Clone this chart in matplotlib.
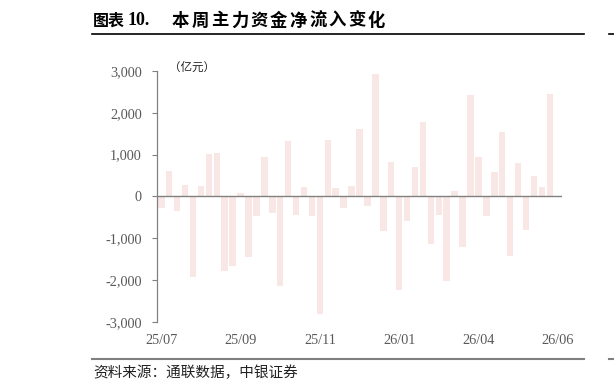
import numpy as np
import matplotlib
matplotlib.use("Agg")
import matplotlib.pyplot as plt
from matplotlib.lines import Line2D

# ---- data ----
net_inflow = [-280, 600, -340, 264, -1940, 240, 1013, 1045, -1796, -1668,
              88, -1445, -471, 934, -400, -2147, 1333, -447, 215, -471,
              -2825, 1341, 192, -287, 247, 1612, -240, 2937, -838, 814,
              -2243, -599, 694, 1772, -1141, -439, -2035, 120, -1213, 2418,
              934, -471, 575, 1532, -1429, 790, -806, 495, 215, 2442,
              None]
tick_labels = ['25/07', '25/09', '25/11', '26/01', '26/04', '26/06']
label_every = 10
y_ticks = [-3000, -2000, -1000, 0, 1000, 2000, 3000]

W, H = 614, 392
fig = plt.figure(figsize=(W / 100, H / 100), dpi=100)

serif = ['Liberation Serif', 'Noto Sans CJK SC']
cjk = ['Noto Sans CJK SC', 'DejaVu Sans']

ax_l, ax_r, ax_t, ax_b = 157.3, 561.7, 71.0, 321.7
ax = fig.add_axes([ax_l / W, 1 - ax_b / H, (ax_r - ax_l) / W, (ax_b - ax_t) / H])

vals = np.array([np.nan if v is None else v for v in net_inflow], dtype=float)
x = np.arange(len(vals))
ax.bar(x, vals, width=0.82, color='#F8E7E5', zorder=1)
ax.axhline(0, color='#808080', lw=1.0, zorder=3)

ax.set_xlim(-0.5, len(vals) - 0.5)
ax.set_ylim(-3000, 3000)
ax.set_yticks(y_ticks)
ax.set_yticklabels([f'{v:,}' for v in y_ticks], family=serif, fontsize=10.3, color='#595959')
ax.set_xticks(x[::label_every])
ax.set_xticklabels(tick_labels, family=serif, fontsize=10.3, color='#595959')
ax.tick_params(axis='x', length=0, pad=9)
ax.tick_params(axis='y', direction='out', length=3.6, width=0.8, color='#808080', pad=7.5)
for s in ['top', 'right', 'bottom']:
    ax.spines[s].set_visible(False)
ax.spines['left'].set_color('#808080')
ax.spines['left'].set_linewidth(0.9)

# unit label
fig.text(169 / W, 1 - 67 / H, '（亿元）', family=cjk, fontsize=8.3, va='center', ha='left', color='#222222')

# title
fig.text(93 / W, 1 - 20.5 / H, '图表', family=cjk, fontsize=11.5, weight='bold', va='center', ha='left')
fig.text(128 / W, 1 - 20.5 / H, '10.', family=serif, fontsize=13, weight='bold', va='center', ha='left')
title2 = '本周主力资金净流入变化'
for i, ch in enumerate(title2):
    fig.text((172 + i * 19.6) / W, 1 - 20.5 / H, ch, family=cjk, fontsize=12.5, weight='bold', va='center', ha='left')

# rules
fig.add_artist(Line2D([91.7 / W, 584 / W], [1 - 34.3 / H] * 2, color='black', lw=1.2))
fig.add_artist(Line2D([609 / W, 1.0], [1 - 34.3 / H] * 2, color='black', lw=1.2))
fig.add_artist(Line2D([91.7 / W, 584 / W], [1 - 359.3 / H] * 2, color='#7f7f7f', lw=1.5))
fig.add_artist(Line2D([609 / W, 1.0], [1 - 359.3 / H] * 2, color='#7f7f7f', lw=1.5))

# source
fig.text(93 / W, 1 - 373 / H, '资料来源：通联数据，中银证券', family=cjk, fontsize=10.5,
         va='center', ha='left', color='#222222')

fig.savefig('out.png', dpi=100)
